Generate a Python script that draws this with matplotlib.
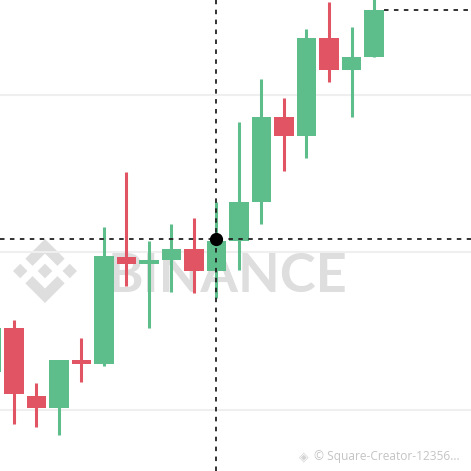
import numpy as np
import matplotlib.pyplot as plt
from matplotlib.patches import Polygon

# candle data (arbitrary price units)
opens  = [124, 152, 109, 101, 132, 129, 197, 193, 195, 202, 188, 207, 232, 286, 274, 336, 316, 324]
closes = [152, 110, 101, 132, 129, 198, 193, 195, 202, 188, 207, 232, 286, 274, 336, 316, 324, 354]
highs  = [156, 157, 117, 132, 146, 216, 251, 207, 218, 222, 232, 283, 310, 298, 342, 359, 343, 364]
lows   = [119, 91, 89, 84, 118, 128, 179, 152, 175, 174, 171, 189, 218, 252, 260, 308, 286, 324]
grid_levels = [100, 200, 300]
cross_index = 10
cross_price = 208.6

green = '#5dbd8b'
red = '#e05464'
W = 471
XLIM = (0.378, 21.311)
YLIM = (61.27, 360.3)

fig = plt.figure(figsize=(4.71, 4.71), dpi=100)
ax = fig.add_axes([0, 0, 1, 1])
ax.axis('off')   # also hides the axes patch, so the watermark below shows through

for g in grid_levels:
    ax.axhline(g, color='#efefef', lw=1.5, zorder=0.5)

# watermark logo (pixel coords -> figure fraction), drawn under the axes
def logo(cx, cy, size, color):
    shapes = [
        [(38.73, 53.2), (63.3, 28.63), (87.89, 53.22), (102.19, 38.92), (63.3, 0), (24.42, 38.9)],
        [(38.73, 73.41), (63.3, 97.98), (87.89, 73.39), (102.19, 87.69), (63.3, 126.61), (24.42, 87.71)],
        [(0, 63.31), (14.3, 49.01), (28.6, 63.31), (14.3, 77.61)],
        [(98.01, 63.31), (112.31, 49.01), (126.61, 63.31), (112.31, 77.61)],
        [(63.3, 48.78), (77.82, 63.3), (63.3, 77.83), (48.77, 63.3)],
    ]
    for s in shapes:
        pts = [((cx + (sx - 63.3) / 126.61 * size) / W,
                1 - (cy + (sy - 63.3) / 126.61 * size) / W) for sx, sy in s]
        fig.add_artist(Polygon(pts, closed=True, transform=fig.transFigure,
                               facecolor=color, edgecolor='none', zorder=-1))

logo(45, 271, 64, '#dedede')
fig.text(108 / W, 1 - 292 / W, 'BINANCE', fontsize=39, fontweight='bold',
         family='Lato', color='#dedede', ha='left', va='baseline', zorder=-1)

# candles
x = np.arange(len(opens))
for i in x:
    o, c, h, l = opens[i], closes[i], highs[i], lows[i]
    col = green if c >= o else red
    ax.vlines(i, l, h, color=col, lw=2.2, zorder=2)
    ax.bar(i, c - o, bottom=o, width=0.86, color=col, zorder=3)

# crosshair
dash = (0, (2.5, 3))
ax.axhline(cross_price, color='#222222', lw=1.3, ls=dash, zorder=5)
ax.axvline(cross_index, color='#222222', lw=1.3, ls=dash, zorder=5)
ax.hlines(closes[-1], len(opens) - 1 + 0.43, XLIM[1], color='#222222', lw=1.3, ls=dash, zorder=5)
ax.plot(cross_index, cross_price, 'o', color='black', ms=8.5, zorder=6)

ax.set_xlim(*XLIM)
ax.set_ylim(*YLIM)

# bottom-right watermark
fig.text(304 / W, 1 - 460 / W, '\u25c8', fontsize=9, color='#d4d4d4', ha='center', va='baseline')
fig.text(314 / W, 1 - 460 / W, '\u00a9 Square-Creator-12356...', fontsize=8.6,
         family='Open Sans', color='#c4c4c4', ha='left', va='baseline')

fig.savefig('out.png', dpi=100)
